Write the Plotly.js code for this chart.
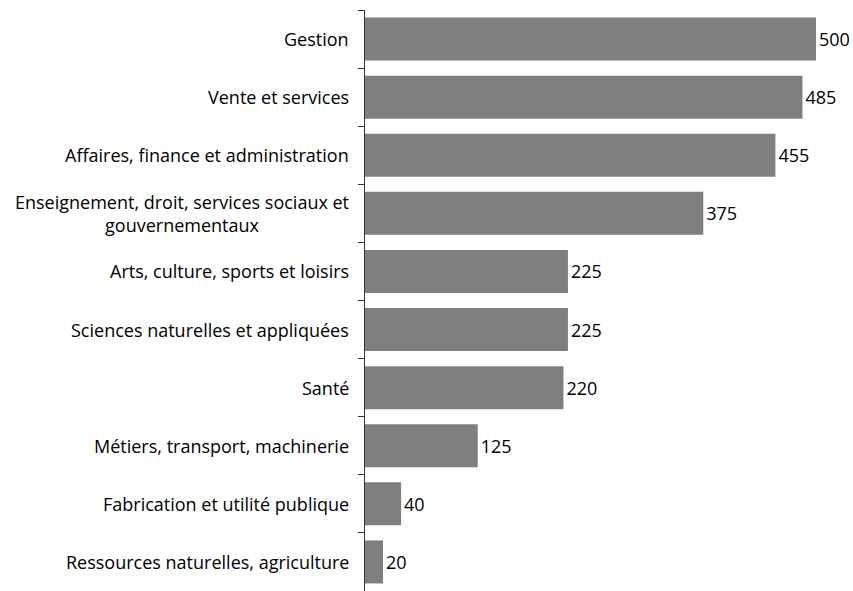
<!DOCTYPE html>
<html>
<head>
<meta charset="utf-8">
<script src="https://cdn.plot.ly/plotly-3.0.1.min.js"></script>
<style>html,body{margin:0;padding:0;background:#fff;}#chart{width:853px;height:591px;}</style>
</head>
<body>
<div id="chart"></div>
<script>
const categories = [
  "Gestion",
  "Vente et services",
  "Affaires, finance et administration",
  "Enseignement, droit, services sociaux et<br>gouvernementaux",
  "Arts, culture, sports et loisirs",
  "Sciences naturelles et appliquées",
  "Santé",
  "Métiers, transport, machinerie",
  "Fabrication et utilité publique",
  "Ressources naturelles, agriculture"
];
const values = [500, 485, 455, 375, 225, 225, 220, 125, 40, 20];

const FONT = "'Open Sans', sans-serif";
const FS = 18;

const trace = {
  type: "bar",
  orientation: "h",
  x: values,
  y: categories.map((c, i) => i),
  marker: {color: "#7f7f7f"},
  text: values.map(String),
  textposition: "outside",
  textfont: {family: FONT, size: FS, color: "#000"},
  cliponaxis: false,
  hoverinfo: "none"
};

const annotations = categories.map((c, i) => ({
  xref: "paper", yref: "y",
  x: 0, y: i,
  xanchor: "right", yanchor: "middle",
  xshift: -14,
  align: "center",
  showarrow: false,
  text: c,
  font: {family: FONT, size: FS, color: "#000"}
}));

const layout = {
  width: 853, height: 591,
  margin: {l: 365, r: 37, t: 10, b: 0},
  paper_bgcolor: "#fff",
  plot_bgcolor: "#fff",
  showlegend: false,
  bargap: 0.26,
  font: {family: FONT, size: FS, color: "#000"},
  xaxis: {
    range: [0, 500],
    visible: false,
    showgrid: false,
    zeroline: false
  },
  yaxis: {
    type: "linear",
    range: [9.5, -0.5],
    showgrid: false,
    zeroline: false,
    showline: true,
    linecolor: "#333",
    linewidth: 1,
    ticks: "outside",
    ticklen: 6,
    tickcolor: "#333",
    tickvals: [-0.5, 0.5, 1.5, 2.5, 3.5, 4.5, 5.5, 6.5, 7.5, 8.5],
    showticklabels: false
  },
  annotations: annotations
};

Plotly.newPlot("chart", [trace], layout, {displayModeBar: false, staticPlot: true});
</script>
</body>
</html>
